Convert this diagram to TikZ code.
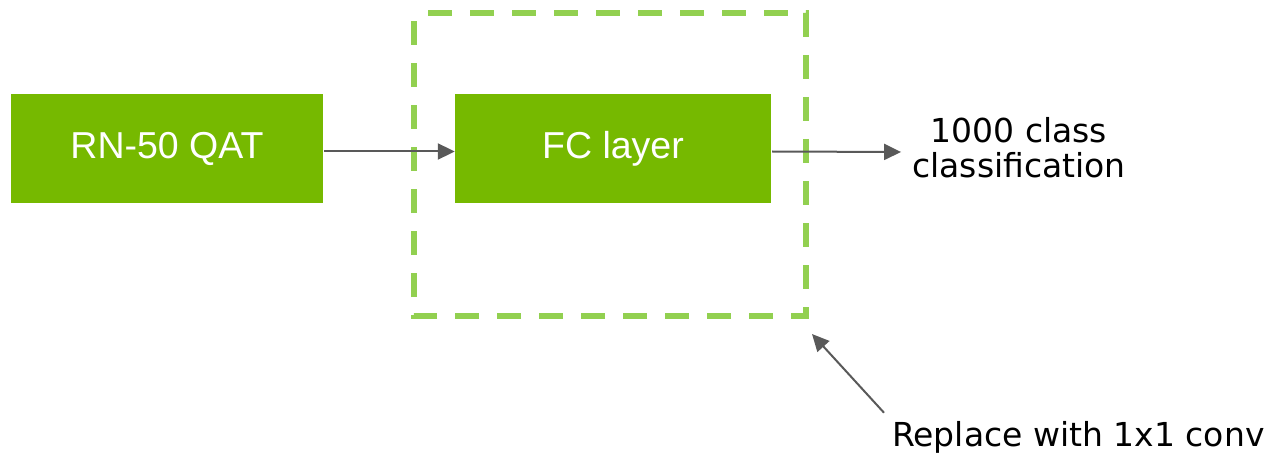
\documentclass[tikz,border=0pt]{standalone}
\usepackage{fontspec}
\setmainfont{DejaVu Sans}
\newfontfamily\boxfont{Liberation Sans}
\usetikzlibrary{arrows.meta}
\definecolor{nvgreen}{HTML}{76B900}
\definecolor{litegreen}{HTML}{92D050}
\definecolor{arrowgray}{HTML}{595959}
\begin{document}
\begin{tikzpicture}[x=1pt,y=-1pt,
  greenbox/.style={fill=nvgreen, draw=none, inner sep=0pt,
    minimum height=109pt, text=white,
    font=\boxfont\fontsize{37.5}{40}\selectfont},
  label/.style={inner sep=0pt, font=\fontsize{33}{35}\selectfont},
  arr/.style={draw=arrowgray, line width=2pt,
    -{Triangle[length=17pt,width=16pt]}},
  groupline/.style={draw=litegreen, line width=6pt,
    dash pattern=on 24pt off 18pt, dash phase=28pt, line cap=butt}
]
\useasboundingbox (0,0) rectangle (1268,457);

% blocks
\node[greenbox, minimum width=312pt] (rn) at (167,148.5) {RN-50 QAT};
\node[greenbox, minimum width=316pt] (fc) at (613,148.5) {FC layer};

% dashed group around the FC layer
\draw[groupline] (414,13) -- (806,13) -- (806,316) -- (414,316) -- cycle;
\coordinate (grpcorner) at (812,334);

% labels
\node[label, align=center] (out) at (1019,148) {1000 class\\classification};
\node[label, anchor=base west] (note) at (892,446) {Replace with 1x1 conv};

% connectors
\draw[arr] ([shift={(1,3)}]rn.east) -- ([yshift=-3pt]fc.west);
\draw[arr] ([shift={(1,3)}]fc.east) -- ([shift={(-11,4)}]out.west);
\draw[arr] ([shift={(-8,-8)}]note.north west) -- (grpcorner);
\end{tikzpicture}
\end{document}
